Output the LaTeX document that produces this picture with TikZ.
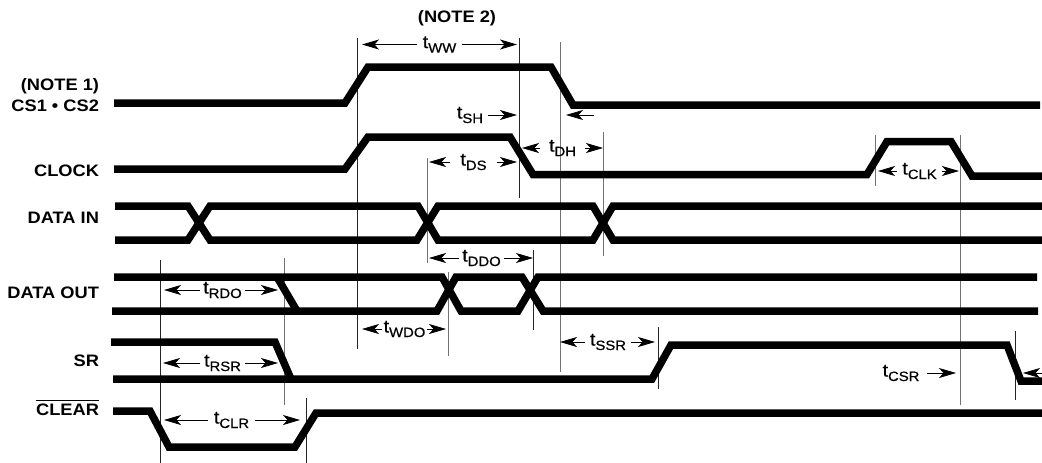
\documentclass[tikz,border=0pt]{standalone}
\usepackage{fontspec}
\setmainfont{Liberation Sans}[FakeStretch=1.1]
\newfontfamily\tfont{Liberation Sans}[FakeStretch=1.1,FakeBold=0.6]
\usetikzlibrary{arrows.meta}
\newcommand{\tsub}[1]{\tfont\fontsize{18}{18}\selectfont t\raisebox{-4.5pt}{\fontsize{13.5}{13.5}\selectfont #1}}
\tikzset{
  wave/.style={line width=7.5pt,line join=miter,miter limit=10},
  tick/.style={line width=0.9pt,black!85},
  gtick/.style={line width=1pt,black!55},
  dim/.style={line width=0.8pt,-{Stealth[length=17pt,width=10pt,inset=4.5pt]}},
  lbl/.style={inner sep=0pt,outer sep=0pt,anchor=center},
  sig/.style={inner sep=0pt,outer sep=0pt,anchor=base east,font=\bfseries\fontsize{16.6}{16.6}\selectfont},
}
\begin{document}
\begin{tikzpicture}[x=1pt,y=-1pt]
\useasboundingbox (0,0) rectangle (1042,463);
% extension lines
\draw[tick] (357,38) -- (357,349);
\draw[tick] (519,38) -- (519,198);
\draw[gtick] (560,42) -- (560,372);
\draw[gtick] (427,158) -- (427,263);
\draw[gtick] (603,132) -- (603,256);
\draw[gtick] (448.5,272) -- (448.5,356);
\draw[tick] (533,250) -- (533,330);
\draw[tick] (658,327) -- (658,389);
\draw[tick] (160,260) -- (160,463);
\draw[gtick] (284,258) -- (284,405);
\draw[tick] (306,398) -- (306,463);
\draw[gtick] (875,135) -- (875,186);
\draw[gtick] (960.5,135) -- (960.5,405);
\draw[tick] (1015,331) -- (1015,400);
% waveforms
\draw[wave] (114,103) -- (345,103) -- (368,67) -- (551,67) -- (573,105) -- (1040,105);
\draw[wave] (114,169) -- (345,169) -- (368,137) -- (510,137) -- (533,174.5) -- (867,174.5) -- (887,141.5) -- (951,141.5) -- (972,176) -- (1042,176);
\draw[wave] (115,206) -- (188,206) -- (210,240) -- (417,240) -- (438,206) -- (593,206) -- (613,240) -- (1042,240);
\draw[wave] (115,240) -- (188,240) -- (210,206) -- (418,206) -- (438,240) -- (593,240) -- (613,206) -- (1042,206);
\draw[wave] (114,277) -- (442,277) -- (461,311) -- (518,311) -- (538,277) -- (1037,277);
\draw[wave] (112,311) -- (437,311) -- (456,277) -- (522,277) -- (543,311) -- (1038,311);
\draw[wave] (277,277) -- (297,311);
\draw[wave] (111,342) -- (275,342) -- (291,379);
\draw[wave] (113,379) -- (652,379) -- (671,345) -- (1007,345) -- (1021,381) -- (1042,381);
\draw[wave] (113,411) -- (150,411) -- (169,447) -- (295,447) -- (316,413) -- (1042,413);
% signal names
\node[sig] (n1) at (99,90.7) {(NOTE 1)};
\node[sig] (cs) at (99,111.7) {CS1 • CS2};
\node[sig] (clk) at (99,176.7) {CLOCK};
\node[sig] (din) at (99,223.3) {DATA IN};
\node[sig] (dout) at (99,298.3) {DATA OUT};
\node[sig] (sr) at (99,366) {SR};
\node[sig] (clr) at (99,415.7) {$\overline{\mbox{\rule{0pt}{14.5pt}CLEAR}}$};
\node[sig,anchor=base] (n2) at (457,22.7) {(NOTE 2)};
% timing labels (node width spans the gap between arrow tails)
\node[lbl,minimum width=45pt] (tww) at (439.5,44.5) {\tsub{WW}};
\node[lbl,minimum width=36pt] (tsh) at (470,115) {\tsub{SH}};
\node[lbl,minimum width=45pt] (tdh) at (562.5,148) {\tsub{DH}};
\node[lbl,minimum width=47pt] (tds) at (473.5,162) {\tsub{DS}};
\node[lbl,minimum width=45pt] (tclk) at (919.5,171) {\tsub{CLK}};
\node[lbl,minimum width=52pt] (tcsr) at (901,373) {\tsub{CSR}};
\node[lbl,minimum width=45pt] (trdo) at (222.5,290) {\tsub{RDO}};
\node[lbl,minimum width=45pt] (trsr) at (222.5,363) {\tsub{RSR}};
\node[lbl,minimum width=47pt] (tclr) at (231.5,420) {\tsub{CLR}};
\node[lbl,minimum width=45pt] (tddo) at (481.5,258) {\tsub{DDO}};
\node[lbl,minimum width=45pt] (twdo) at (404.5,329) {\tsub{WDO}};
\node[lbl,minimum width=46pt] (tssr) at (608,342) {\tsub{SSR}};
% arrow tips
\coordinate (twwL) at (362,44.5); \coordinate (twwR) at (517,44.5);
\coordinate (tshR) at (517,115);
\coordinate (holdT) at (594,115); \coordinate (holdH) at (566,115);
\coordinate (tdhL) at (522,148); \coordinate (tdhR) at (603,148);
\coordinate (tdsL) at (429,162); \coordinate (tdsR) at (517,162);
\coordinate (tclkL) at (878,171); \coordinate (tclkR) at (959,171);
\coordinate (tcsrR) at (956,373);
\coordinate (csrT) at (1042,373); \coordinate (csrH) at (1023,373);
\coordinate (trdoL) at (164,290); \coordinate (trdoR) at (278,290);
\coordinate (trsrL) at (163,363); \coordinate (trsrR) at (278,363);
\coordinate (tclrL) at (164,420); \coordinate (tclrR) at (300,420);
\coordinate (tddoL) at (429,258); \coordinate (tddoR) at (533,258);
\coordinate (twdoL) at (362,329); \coordinate (twdoR) at (446,329);
\coordinate (tssrL) at (560,342); \coordinate (tssrR) at (655,342);
% dimension arrows
\draw[dim] (tww.west) -- (twwL); \draw[dim] (tww.east) -- (twwR);
\draw[dim] (tsh.east) -- (tshR);
\draw[dim] (holdT) -- (holdH);
\draw[dim] (tdh.west) -- (tdhL); \draw[dim] (tdh.east) -- (tdhR);
\draw[dim] (tds.west) -- (tdsL); \draw[dim] (tds.east) -- (tdsR);
\draw[dim] (tclk.west) -- (tclkL); \draw[dim] (tclk.east) -- (tclkR);
\draw[dim] (tcsr.east) -- (tcsrR);
\draw[dim] (csrT) -- (csrH);
\draw[dim] (trdo.west) -- (trdoL); \draw[dim] (trdo.east) -- (trdoR);
\draw[dim] (trsr.west) -- (trsrL); \draw[dim] (trsr.east) -- (trsrR);
\draw[dim] (tclr.west) -- (tclrL); \draw[dim] (tclr.east) -- (tclrR);
\draw[dim] (tddo.west) -- (tddoL); \draw[dim] (tddo.east) -- (tddoR);
\draw[dim] (twdo.west) -- (twdoL); \draw[dim] (twdo.east) -- (twdoR);
\draw[dim] (tssr.west) -- (tssrL); \draw[dim] (tssr.east) -- (tssrR);
\end{tikzpicture}
\end{document}
